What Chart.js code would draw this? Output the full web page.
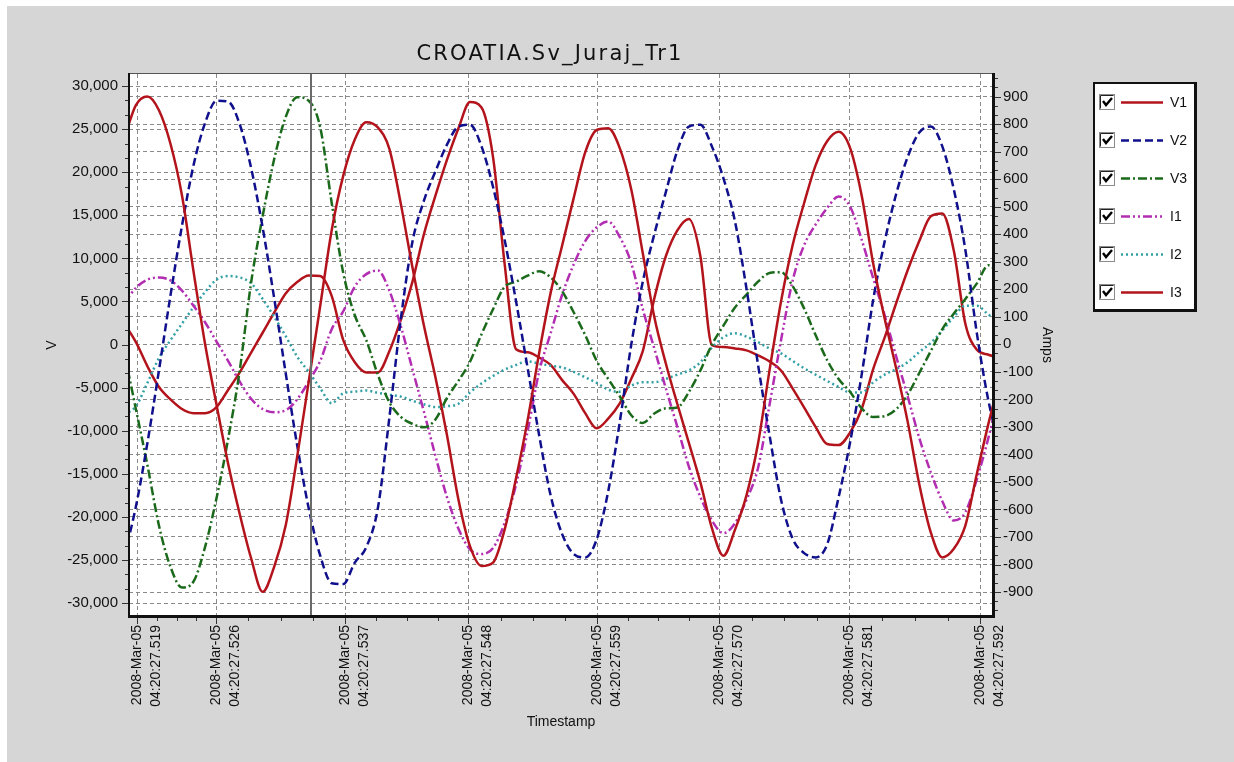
<!DOCTYPE html>
<html>
<head>
<meta charset="utf-8">
<title>CROATIA.Sv_Juraj_Tr1</title>
<script src="https://cdn.jsdelivr.net/npm/chart.js@4.4.1/dist/chart.umd.min.js"></script>
<style>
  html, body { margin: 0; padding: 0; background: #fff; }
  #wrap { width: 1234px; height: 762px; }
</style>
</head>
<body>
<div id="wrap"><canvas id="scopeChart" width="1234" height="762"></canvas></div>
<script>
// recorder data, time in ms after 04:20:27
const chartTitle = 'CROATIA.Sv_Juraj_Tr1';

const sampleTimes = [518, 519, 520, 521, 522, 523, 524, 525, 526, 527,
  528, 529, 530, 531, 532, 533, 534, 535, 536, 537,
  538, 539, 540, 541, 542, 543, 544, 545, 546, 547,
  548, 549, 550, 551, 552, 553, 554, 555, 556, 557,
  558, 559, 560, 561, 562, 563, 564, 565, 566, 567,
  568, 569, 570, 571, 572, 573, 574, 575, 576, 577,
  578, 579, 580, 581, 582, 583, 584, 585, 586, 587,
  588, 589, 590, 591, 592, 593, 594];

// volts
const v1 = [24000, 27800, 28800, 27200, 23300, 17300, 8500, 100, -7000, -13800,
  -19600, -24800, -28700, -25800, -21000, -13000, -4300, 4500, 13300, 19600,
  23800, 25800, 25200, 22700, 16300, 9000, 2200, -3800, -10500, -18000,
  -23400, -25700, -25300, -21500, -15500, -8800, -1000, 6000, 11500, 17000,
  22300, 24900, 25100, 22800, 18000, 10600, 3200, -2200, -6900, -11400,
  -16000, -21300, -24500, -21500, -17500, -11500, -3000, 5000, 11500, 16400,
  20800, 23600, 24700, 22800, 17300, 9400, 3000, -2800, -9000, -16200,
  -21800, -24700, -23700, -21000, -15000, -9200, -4000];
const v2 = [-24500, -18800, -11400, -3000, 5700, 13800, 20800, 25700, 28300, 28200,
  25600, 20500, 13600, 5400, -3300, -11700, -19000, -24500, -27700, -27800,
  -25300, -23500, -19000, -8500, 3000, 11900, 16700, 20100, 23200, 25300,
  25500, 23000, 18300, 12200, 5000, -2700, -10500, -17500, -22000, -24300,
  -24700, -22600, -17000, -9000, 0, 7300, 12800, 17700, 22500, 25300,
  25500, 23000, 19300, 14300, 6500, -2300, -10500, -18000, -22500, -24200,
  -24700, -23200, -17700, -11300, -3500, 5200, 12000, 17500, 21800, 24600,
  25300, 23000, 18000, 11000, 1300, -6500, -12000];
const v3 = [-1000, -7500, -14000, -21000, -25800, -28200, -27500, -23500, -17800, -11000,
  -3100, 7200, 14900, 21500, 26400, 28700, 28300, 25200, 16400, 8300,
  3400, 500, -3500, -6700, -8400, -9200, -9600, -8700, -6200, -4200,
  -2000, 1200, 4100, 6700, 7300, 8000, 8500, 7800, 6200, 3750,
  1100, -1900, -4000, -6000, -8200, -9100, -8000, -7400, -7300, -5500,
  -3000, 0, 2200, 4300, 5800, 7300, 8300, 8400, 6800, 4200,
  1100, -1800, -4000, -5500, -7400, -8400, -8300, -7500, -5800, -3300,
  -750, 1800, 3600, 5300, 7100, 9200, 8000];

// amps
const i1 = [150, 205, 235, 243, 232, 195, 140, 80, 10, -60,
  -135, -198, -235, -247, -240, -200, -135, -60, 55, 120,
  210, 255, 268, 195, 65, -90, -245, -405, -555, -670,
  -745, -762, -740, -650, -510, -316, -100, 40, 180, 290,
  375, 425, 446, 390, 295, 128, -15, -160, -300, -444,
  -555, -640, -686, -650, -565, -450, -220, 15, 230, 360,
  435, 495, 537, 500, 380, 240, 105, -45, -190, -340,
  -465, -570, -640, -610, -490, -340, -170];
const i2 = [-255, -225, -140, -50, 15, 75, 135, 190, 235, 248,
  243, 222, 165, 100, 30, -45, -100, -160, -214, -178,
  -172, -168, -176, -183, -190, -205, -218, -228, -225, -216,
  -175, -142, -115, -92, -75, -62, -70, -78, -84, -100,
  -120, -140, -165, -172, -150, -138, -138, -126, -110, -95,
  -65, -12, 26, 40, 28, 8, -15, -33, -60, -87,
  -110, -133, -155, -175, -175, -138, -110, -90, -65, -28,
  5, 50, 100, 140, 140, 108, 80];
const i3 = [75, 8, -80, -155, -200, -235, -250, -250, -228, -166,
  -103, -30, 42, 115, 185, 226, 250, 248, 175, 15,
  -65, -102, -102, -25, 90, 227, 400, 540, 670, 785,
  880, 860, 680, 295, -18, -29, -48, -75, -130, -180,
  -250, -305, -270, -215, -125, -25, 167, 320, 414, 455,
  320, -3, -10, -15, -22, -40, -62, -95, -160, -229,
  -300, -362, -366, -320, -235, -90, 25, 150, 270, 375,
  465, 475, 340, 75, -20, -38, -50];

const timeTicks = [519.1, 525.97, 537.17, 547.85, 559.05, 569.65, 580.94, 592.3];
const timeTickLabels = [
  ['2008-Mar-05', '04:20:27.519'],
  ['2008-Mar-05', '04:20:27.526'],
  ['2008-Mar-05', '04:20:27.537'],
  ['2008-Mar-05', '04:20:27.548'],
  ['2008-Mar-05', '04:20:27.559'],
  ['2008-Mar-05', '04:20:27.570'],
  ['2008-Mar-05', '04:20:27.581'],
  ['2008-Mar-05', '04:20:27.592']
];
const voltTicks = [-30000, -25000, -20000, -15000, -10000, -5000, 0, 5000, 10000, 15000, 20000, 25000, 30000];
const ampTicks = [-900, -800, -700, -600, -500, -400, -300, -200, -100, 0, 100, 200, 300, 400, 500, 600, 700, 800, 900];
const cursorTime = 534.2;

const labelFont = "'Liberation Sans', Arial, sans-serif";
const gridGray = '#8a8a8a';

const series = [
  { label: 'V1', values: v1, axis: 'yV', color: '#b3141c', dash: [] },
  { label: 'V2', values: v2, axis: 'yV', color: '#10108c', dash: [8, 4] },
  { label: 'V3', values: v3, axis: 'yV', color: '#1b6a1b', dash: [9, 3, 2, 3] },
  { label: 'I1', values: i1, axis: 'yA', color: '#b22db2', dash: [9, 3, 2, 3, 2, 3] },
  { label: 'I2', values: i2, axis: 'yA', color: '#32a0a4', dash: [2, 3] },
  { label: 'I3', values: i3, axis: 'yA', color: '#b3141c', dash: [] }
];

// tick marks outside the plot, majors plus minor subdivisions
function axisMarks(ctx, scale, majors, parts, vertical, edge, dir) {
  const marks = [];
  const step0 = majors[1] - majors[0];
  const stepN = majors[majors.length - 1] - majors[majors.length - 2];
  majors.forEach((v, i) => {
    marks.push([v, 6]);
    if (i < majors.length - 1) {
      for (let k = 1; k < parts; k++) marks.push([v + (majors[i + 1] - v) * k / parts, 3]);
    }
  });
  for (let k = 1; k < parts; k++) {
    marks.push([majors[0] - step0 * k / parts, 3]);
    marks.push([majors[majors.length - 1] + stepN * k / parts, 3]);
  }
  ctx.beginPath();
  marks.forEach(([v, len]) => {
    if (v < scale.min || v > scale.max) return;
    const p = Math.round(scale.getPixelForValue(v)) + 0.5;
    if (vertical) {
      ctx.moveTo(edge, p);
      ctx.lineTo(edge + dir * len, p);
    } else {
      ctx.moveTo(p, edge);
      ctx.lineTo(p, edge + dir * len);
    }
  });
  ctx.stroke();
}

const scopeDecor = {
  id: 'scopeDecor',
  beforeDraw(chart) {
    const { ctx, chartArea: a, width, height } = chart;
    ctx.save();
    ctx.fillStyle = '#ffffff';
    ctx.fillRect(0, 0, width, height);
    ctx.fillStyle = '#d6d6d6';
    ctx.fillRect(7, 6, width - 7, height - 6);
    ctx.fillStyle = '#ffffff';
    ctx.fillRect(a.left, a.top, a.right - a.left, a.bottom - a.top);
    ctx.restore();
  },
  afterDatasetsDraw(chart) {
    const { ctx, chartArea: a, scales } = chart;
    const x = Math.round(scales.x.getPixelForValue(cursorTime));
    ctx.save();
    ctx.fillStyle = '#6a6a6a';
    ctx.fillRect(x - 1, a.top, 2, a.bottom - a.top);
    ctx.restore();
  },
  afterDraw(chart) {
    const { ctx, chartArea: a, scales } = chart;
    ctx.save();

    // plot frame
    ctx.fillStyle = '#555';
    ctx.fillRect(a.left, a.top - 1, a.right - a.left, 1);
    ctx.fillStyle = '#111';
    ctx.fillRect(a.left - 1, a.top - 1, 2, a.bottom - a.top + 3);
    ctx.fillRect(a.left - 1, a.bottom - 1, a.right - a.left + 3, 3);
    ctx.fillRect(a.right - 1, a.top - 1, 3, a.bottom - a.top + 3);

    // tick marks
    ctx.strokeStyle = '#333';
    ctx.lineWidth = 1;
    axisMarks(ctx, scales.yV, voltTicks, 3, true, a.left - 1, -1);
    axisMarks(ctx, scales.yA, ampTicks, 3, true, a.right + 2, 1);
    axisMarks(ctx, scales.x, timeTicks, 4, false, a.bottom + 2, 1);

    // legend with checkboxes
    const lx = 1093, ly = 82, lw = 104, lh = 230;
    ctx.fillStyle = '#fff';
    ctx.fillRect(lx, ly, lw, lh);
    ctx.fillStyle = '#111';
    ctx.fillRect(lx, ly, lw, 2);
    ctx.fillRect(lx, ly, 2, lh);
    ctx.fillRect(lx + lw - 3, ly, 3, lh);
    ctx.fillRect(lx, ly + lh - 3, lw, 3);
    chart.data.datasets.forEach((ds, i) => {
      const cy = 102 + i * 38;
      ctx.setLineDash([]);
      ctx.fillStyle = '#fff';
      ctx.fillRect(1099, cy - 8, 16, 16);
      ctx.strokeStyle = '#8a8a8a';
      ctx.lineWidth = 1;
      ctx.strokeRect(1099.5, cy - 7.5, 15, 15);
      ctx.strokeStyle = '#222';
      ctx.beginPath();
      ctx.moveTo(1100.5, cy + 6.5);
      ctx.lineTo(1100.5, cy - 6.5);
      ctx.lineTo(1113.5, cy - 6.5);
      ctx.stroke();
      ctx.strokeStyle = '#000';
      ctx.lineWidth = 2.4;
      ctx.beginPath();
      ctx.moveTo(1103, cy - 1);
      ctx.lineTo(1106, cy + 3);
      ctx.lineTo(1112, cy - 4);
      ctx.stroke();

      ctx.strokeStyle = ds.borderColor;
      ctx.lineWidth = ds.borderWidth;
      ctx.setLineDash(ds.borderDash);
      ctx.beginPath();
      ctx.moveTo(1121, cy + 0.5);
      ctx.lineTo(1163, cy + 0.5);
      ctx.stroke();

      ctx.setLineDash([]);
      ctx.fillStyle = '#111';
      ctx.font = '14px ' + labelFont;
      ctx.textAlign = 'left';
      ctx.textBaseline = 'middle';
      ctx.fillText(ds.label, 1170, cy + 1);
    });

    // title
    ctx.fillStyle = '#111';
    ctx.font = "21px 'DejaVu Sans', sans-serif";
    ctx.letterSpacing = '2.2px';
    ctx.textAlign = 'center';
    ctx.textBaseline = 'alphabetic';
    ctx.fillText(chartTitle, 550, 60);
    ctx.letterSpacing = '0px';
    ctx.restore();
  }
};

const ctx = document.getElementById('scopeChart');

new Chart(ctx, {
  type: 'line',
  data: {
    datasets: series.map(s => ({
      label: s.label,
      data: sampleTimes.map((t, i) => ({ x: t, y: s.values[i] })),
      yAxisID: s.axis,
      borderColor: s.color,
      borderWidth: 2.5,
      borderDash: s.dash,
      borderCapStyle: 'butt',
      borderJoinStyle: 'round',
      cubicInterpolationMode: 'monotone',
      pointRadius: 0,
      fill: false,
      clip: 0
    }))
  },
  options: {
    responsive: false,
    animation: false,
    events: [],
    layout: { padding: { top: 74, left: 0, right: 0, bottom: 0 }, autoPadding: false },
    plugins: {
      legend: { display: false },
      tooltip: { enabled: false },
      title: { display: false }
    },
    scales: {
      x: {
        type: 'linear',
        position: 'bottom',
        min: 518.4,
        max: 593.4,
        afterBuildTicks: (axis) => { axis.ticks = timeTicks.map(v => ({ value: v })); },
        afterFit: (axis) => { axis.height = 146; },
        ticks: {
          autoSkip: false,
          minRotation: 90,
          maxRotation: 90,
          padding: 9,
          color: '#111',
          font: { family: labelFont, size: 14, lineHeight: 1.35 },
          callback: (value, index) => timeTickLabels[index]
        },
        grid: { color: gridGray, lineWidth: 1, drawTicks: false },
        border: { display: false, dash: [4, 3] },
        title: {
          display: true,
          text: 'Timestamp',
          color: '#111',
          font: { family: labelFont, size: 14 },
          padding: { top: 0, bottom: 31.6 }
        }
      },
      yV: {
        type: 'linear',
        position: 'left',
        min: -31500,
        max: 31400,
        afterBuildTicks: (axis) => { axis.ticks = voltTicks.map(v => ({ value: v })); },
        afterFit: (axis) => { axis.width = 129; },
        ticks: {
          padding: 11,
          color: '#111',
          font: { family: labelFont, size: 15 },
          callback: (value) => value.toLocaleString('en-US')
        },
        grid: { color: gridGray, lineWidth: 1, drawTicks: false },
        border: { display: false, dash: [4, 3] },
        title: {
          display: true,
          text: 'V',
          color: '#111',
          font: { family: labelFont, size: 14 },
          padding: { top: 44, bottom: 0 }
        }
      },
      yA: {
        type: 'linear',
        position: 'right',
        min: -987,
        max: 982,
        afterBuildTicks: (axis) => { axis.ticks = ampTicks.map(v => ({ value: v })); },
        afterFit: (axis) => { axis.width = 241; },
        ticks: {
          padding: 10,
          color: '#111',
          font: { family: labelFont, size: 15 },
          callback: (value) => String(value)
        },
        grid: { color: gridGray, lineWidth: 1, drawTicks: false, drawOnChartArea: true },
        border: { display: false, dash: [4, 3] },
        title: {
          display: true,
          text: 'Amps',
          color: '#111',
          font: { family: labelFont, size: 14 },
          padding: { top: 178.6, bottom: 0 }
        }
      }
    }
  },
  plugins: [scopeDecor]
});
</script>
</body>
</html>
